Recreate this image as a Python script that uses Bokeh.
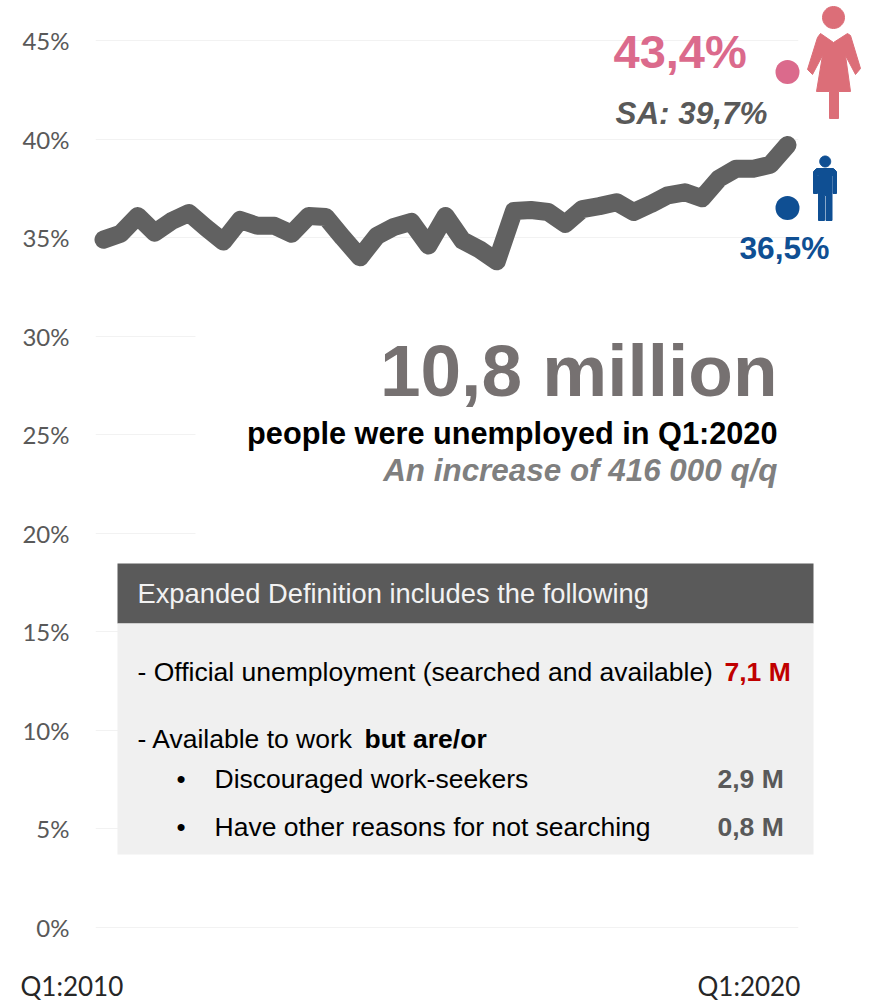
import math
from bokeh.plotting import figure
from bokeh.embed import file_html
from bokeh.resources import INLINE
from bokeh.models import FixedTicker, Range1d
from bokeh.core.properties import value

# ---- data ----
expanded_rate = [34.9, 35.2, 36.1, 35.25, 35.85, 36.25, 35.5, 34.8, 35.9, 35.6, 35.6,
                 35.2, 36.1, 36.05, 35.0, 34.0, 35.1, 35.55, 35.8, 34.6, 36.1, 34.85,
                 34.4, 33.8, 36.35, 36.4, 36.3, 35.7, 36.45, 36.6, 36.8, 36.3, 36.7,
                 37.15, 37.3, 37.0, 38.0, 38.5, 38.5, 38.7, 39.7]
quarter_index = list(range(len(expanded_rate)))
women_rate = [43.4]
men_rate = [36.5]
y_ticks = [0, 5, 10, 15, 20, 25, 30, 35, 40, 45]
y_tick_labels = ["0%", "5%", "10%", "15%", "20%", "25%", "30%", "35%", "40%", "45%"]
x_labels = ["Q1:2010", "Q1:2020"]

GRID = "#F2F2F2"
DARK = "#616161"
PINK = "#DB6A8C"
BLUE = "#0F4F93"
WOMAN = "#DC6E78"
ARIAL = "Liberation Sans"

# reference-pixel -> data helpers, used only for annotation layout
PX_Q = 17.1
PX_PCT = 19.71


def X(px):
    return (px - 103) / PX_Q


def Y(py):
    return (927 - py) / PX_PCT


p = figure(width=869, height=1003, output_backend="svg", toolbar_location=None,
           min_border_left=95, min_border_right=71, min_border_top=0, min_border_bottom=0,
           x_range=Range1d(X(95), X(798)), y_range=Range1d(Y(1003), Y(0)),
           background_fill_color="white", outline_line_color=None)
p.xaxis.visible = False
p.xgrid.visible = False
ax = p.yaxis[0]
ax.ticker = FixedTicker(ticks=y_ticks)
ax.major_label_overrides = dict(zip(y_ticks, y_tick_labels))
ax.axis_line_color = None
ax.major_tick_line_color = None
ax.minor_tick_line_color = None
ax.major_label_standoff = 20
ax.major_label_text_font = "Lato"
ax.major_label_text_font_size = "24px"
ax.major_label_text_color = "#595959"
gr = p.ygrid[0]
gr.ticker = FixedTicker(ticks=y_ticks)
gr.grid_line_color = GRID
gr.grid_line_width = 1


def box(x0, x1, y0, y1, color, level="overlay"):
    p.quad(left=[X(x0)], right=[X(x1)], top=[Y(y0)], bottom=[Y(y1)],
           fill_color=color, line_color=None, level=level)


def txt(px, py, s, size, color="#000000", style="normal", align="left", font=ARIAL):
    # py is the wanted baseline; the svg text box sits about 0.37em lower
    p.text(x=[X(px)], y=[Y(py - 0.37 * size)], text=[s], text_font=value(font),
           text_font_size=value(f"{size}px"), text_color=color,
           text_font_style=style, text_align=align, text_baseline="alphabetic",
           level="overlay")


def shape(points, color):
    p.patch([X(a) for a, _ in points], [Y(b) for _, b in points], fill_color=color,
            line_color=color, line_width=1, line_join="round", level="overlay")


def disc(px, py, r, color):
    pts = [(px + r * math.cos(i * math.pi / 16), py + r * math.sin(i * math.pi / 16)) for i in range(32)]
    shape(pts, color)


# white panel that hides the grid behind the headline
box(195, 800, 300, 545, "white")

# series
p.line(quarter_index, expanded_rate, line_color=DARK, line_width=18,
       line_join="round", line_cap="round", level="overlay")
p.scatter([quarter_index[-1]], women_rate, size=24, fill_color=PINK, line_color=None, level="overlay")
p.scatter([quarter_index[-1]], men_rate, size=24, fill_color=BLUE, line_color=None, level="overlay")

# top-right labels
txt(613, 68, "43,4%", 47, PINK, "bold")
txt(615, 125, "SA: 39,7%", 31.4, "#595959", "bold italic")
txt(739, 259, "36,5%", 31.7, BLUE, "bold")

# headline
txt(777, 397, "10,8 million", 73, "#767171", "bold", "right")
txt(777, 444, "people were unemployed in Q1:2020", 30.7, "#000000", "bold", "right")
txt(777, 482, "An increase of 416 000 q/q", 31.4, "#7F7F7F", "bold italic", "right")

# definition panel
box(117, 813, 563, 623, "#5A5A5A")
box(117, 813, 623, 854, "#F0F0F0")
txt(137, 603, "Expanded  Definition includes  the following", 27.3, "#F2F2F2")
txt(137, 681, "- Official unemployment (searched and available)", 26.5)
txt(724, 681, "7,1 M", 26.5, "#C00000", "bold")
txt(137, 748, "- Available to work ", 26.5)
txt(364, 748, "but are/or", 26.5, "#000000", "bold")
txt(176, 788, "•", 26)
txt(214, 788, "Discouraged work-seekers", 26.5)
txt(717, 788, "2,9 M", 26.5, "#595959", "bold")
txt(176, 836, "•", 26)
txt(214, 836, "Have other reasons for not searching", 26.5)
txt(717, 836, "0,8 M", 26.5, "#595959", "bold")

# category labels
txt(20, 995, x_labels[0], 26, "#262626", font="Lato")
txt(697, 995, x_labels[1], 26, "#262626", font="Lato")

# woman pictogram
disc(833, 17, 11, WOMAN)
shape([(820, 33), (833, 42), (847, 33), (850, 35), (860, 68), (855, 74), (845, 55),
      (850, 91), (838, 91), (838, 118), (829, 118), (829, 91), (816, 91), (822, 55),
      (812, 74), (807, 69), (817, 37)], WOMAN)

# man pictogram
disc(824.7, 161, 5.5, BLUE)
shape([(813, 171), (816, 168), (833, 168), (836, 171), (836, 193), (832.5, 193), (832.5, 175),
      (831.5, 175), (831.5, 220), (825.5, 220), (825.5, 195), (824, 195), (824, 220), (818, 220),
      (818, 175), (817, 175), (817, 193), (813, 193)], BLUE)

open("out.html", "w").write(file_html(p, INLINE))
